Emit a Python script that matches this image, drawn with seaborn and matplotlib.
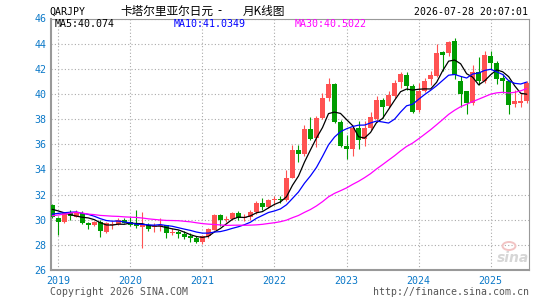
import numpy as np
import pandas as pd
import matplotlib
matplotlib.use('Agg')
import matplotlib.pyplot as plt
from matplotlib.patches import Ellipse
import seaborn as sns

# monthly candles, Dec 2018 .. Jul 2025 (QAR/JPY)
months = pd.period_range('2018-12', '2025-07', freq='M')

open_ = [31.18, 30.10, 29.85, 30.50, 30.25, 30.55, 29.72, 29.60, 29.80, 29.05,
         29.58, 29.62, 29.96, 29.80, 29.72, 29.40, 29.55, 29.38, 29.50, 29.55,
         28.98, 29.03, 28.90, 28.72, 28.58, 28.22, 28.68, 29.22, 30.38, 29.95,
         30.08, 30.50, 30.12, 30.22, 30.58, 31.32, 30.98, 31.58, 31.62, 31.58,
         33.35, 35.55, 35.25, 37.18, 36.47, 38.10, 39.70, 40.80, 37.80, 35.90,
         35.65, 37.32, 36.45, 37.26, 38.00, 39.55, 39.03, 39.80, 40.93, 41.52,
         40.60, 38.73, 40.26, 41.20, 41.41, 43.30, 43.25, 44.18, 41.00, 40.20,
         39.30, 41.78, 41.00, 43.05, 42.44, 41.26, 41.05, 39.20, 39.25, 39.40]

high = [31.27, 30.25, 30.60, 30.80, 30.80, 30.70, 29.85, 29.90, 29.95, 29.80,
        29.90, 30.10, 30.10, 30.25, 30.80, 30.65, 29.70, 29.75, 30.15, 29.60,
        29.35, 29.20, 29.10, 28.95, 28.70, 28.80, 29.35, 30.45, 30.45, 30.30,
        30.60, 30.68, 30.45, 30.78, 31.50, 31.72, 31.65, 31.90, 31.92, 33.92,
        35.95, 35.95, 37.55, 38.15, 38.25, 40.10, 41.30, 40.90, 37.95, 36.73,
        37.55, 37.85, 37.84, 38.58, 39.82, 39.70, 40.25, 41.10, 41.73, 41.75,
        40.80, 40.85, 41.30, 41.80, 44.00, 43.40, 44.25, 44.45, 41.40, 40.25,
        42.30, 42.92, 43.40, 43.45, 42.60, 41.60, 41.10, 40.30, 40.10, 41.00]

low = [30.10, 28.75, 29.75, 29.95, 30.20, 29.65, 29.30, 29.50, 28.60, 28.95,
       29.30, 29.58, 29.70, 29.50, 29.35, 27.75, 29.10, 29.05, 29.10, 28.55,
       28.80, 28.55, 28.50, 28.25, 28.15, 28.10, 28.55, 29.15, 29.50, 29.78,
       29.98, 29.95, 29.88, 29.98, 30.45, 30.78, 30.90, 31.20, 31.35, 31.45,
       33.30, 34.62, 35.05, 36.30, 35.75, 38.00, 39.40, 37.70, 35.80, 34.86,
       35.05, 35.60, 35.85, 37.10, 37.80, 38.05, 38.90, 39.70, 40.50, 40.30,
       38.50, 38.60, 40.15, 40.70, 41.35, 41.80, 43.00, 41.20, 38.95, 38.40,
       39.15, 40.70, 40.90, 42.00, 40.78, 40.07, 38.42, 39.00, 39.00, 39.30]

close = [30.20, 29.85, 30.50, 30.30, 30.60, 29.72, 29.60, 29.80, 29.10, 29.70,
         29.65, 29.98, 29.74, 29.60, 29.52, 29.58, 29.25, 29.52, 29.58, 28.95,
         29.05, 28.85, 28.62, 28.58, 28.22, 28.70, 29.25, 30.38, 29.95, 30.08,
         30.50, 30.12, 30.22, 30.58, 31.32, 30.98, 31.58, 31.62, 31.58, 33.35,
         35.55, 35.25, 37.18, 36.45, 38.05, 39.70, 40.80, 37.80, 35.90, 35.62,
         37.32, 36.35, 37.26, 38.15, 39.55, 38.95, 39.95, 40.90, 41.55, 40.60,
         38.55, 40.26, 41.05, 41.52, 43.25, 43.12, 44.10, 41.50, 40.02, 39.30,
         41.75, 41.05, 43.10, 42.45, 41.21, 41.00, 39.10, 39.47, 39.47, 40.86]

# closes Jul 2016 .. Nov 2018, only used to warm up the moving averages
prior_close = [28.05, 28.41, 27.83, 28.79, 31.46, 32.14,
               30.99, 30.99, 30.60, 30.63, 30.44, 30.88, 30.30, 30.22, 30.91,
               31.21, 30.91, 30.96,
               30.00, 29.31, 29.20, 30.03, 29.89, 30.41, 30.74, 30.49, 31.24,
               31.02, 31.18]

year_labels = ['2019', '2020', '2021', '2022', '2023', '2024', '2025']
ma_text = ['MA5:40.074', 'MA10:41.0349', 'MA30:40.5022']

df = pd.DataFrame({'month': months, 'open': open_, 'high': high,
                   'low': low, 'close': close})
df['idx'] = np.arange(len(df))

all_close = pd.Series(prior_close + close)
n_prior = len(prior_close)
for n in [5, 10, 30]:
    df['ma%d' % n] = all_close.rolling(n).mean().values[n_prior:]

RED = '#ff5252'
GREEN = '#009c00'
BLUE_TXT = '#0a78c8'
df['color'] = np.where(df['close'] >= df['open'], RED, GREEN)

sns.set_style('white')
plt.rcParams['font.family'] = ['DejaVu Sans Mono', 'Noto Sans CJK SC']

W, H = 545, 300
fig = plt.figure(figsize=(W / 100, H / 100), dpi=100)
ax = fig.add_axes([50.7 / W, 30 / H, (529 - 50.7) / W, (270 - 18.5) / H])

# grid
ax.set_xlim(-0.25, 79.38)
ax.set_ylim(26, 45.85)
ax.set_yticks(range(26, 47, 2))
jan_idx = df.index[df['month'].dt.month == 1]
ax.set_xticks(jan_idx)
ax.set_xticklabels(year_labels)
ax.grid(True, color='#aaaaaa', linestyle=(0, (1, 2)), linewidth=0.8)
ax.set_axisbelow(True)

# candles
ax.vlines(df['idx'], df['low'], df['high'], colors=df['color'], linewidth=0.8, zorder=2)
body_lo = np.minimum(df['open'], df['close'])
body_h = np.maximum(np.abs(df['close'] - df['open']), 0.08)
ax.bar(df['idx'], body_h, bottom=body_lo, width=0.82, color=df['color'],
       linewidth=0, zorder=3)

# moving averages
sns.lineplot(data=df, x='idx', y='ma5', color='black', linewidth=0.9, ax=ax, zorder=4)
sns.lineplot(data=df, x='idx', y='ma10', color='#0000ff', linewidth=0.9, ax=ax, zorder=4)
sns.lineplot(data=df, x='idx', y='ma30', color='#ff00ff', linewidth=0.9, ax=ax, zorder=4)
ax.set_xlabel('')
ax.set_ylabel('')

for side in ['left', 'bottom']:
    ax.spines[side].set_linewidth(1.5)
    ax.spines[side].set_color('#999999')
for side in ['top', 'right']:
    ax.spines[side].set_linewidth(0.8)
    ax.spines[side].set_color('#999999')
ax.tick_params(length=0, labelcolor=BLUE_TXT, labelsize=7.2)
ax.tick_params(axis='y', pad=3)
ax.tick_params(axis='x', pad=4)

# MA legend inside the top of the plot
fig.text(54.5 / W, 1 - 24 / H, ma_text[0], color='black', fontsize=7.2, va='center')
fig.text(173.5 / W, 1 - 24 / H, ma_text[1], color='#0000ff', fontsize=7.2, va='center')
fig.text(294.5 / W, 1 - 24 / H, ma_text[2], color='#ff00ff', fontsize=7.2, va='center')

# header
cjk = ['Noto Sans CJK SC', 'DejaVu Sans']
fig.text(49.5 / W, 1 - 12 / H, 'QARJPY', color='black', fontsize=7.1, va='center')
fig.text(120 / W, 1 - 11 / H, '卡塔尔里亚尔日元', color='black', fontsize=8.4,
         va='center', ha='left', family=cjk)
fig.text(219.5 / W, 1 - 11 / H, '-', color='black', fontsize=8.4,
         va='center', ha='center', family=cjk)
fig.text(243 / W, 1 - 11 / H, '月K线图', color='black', fontsize=8.4,
         va='center', ha='left', family=cjk)
fig.text(528 / W, 1 - 12 / H, '2026-07-28 20:07:01', color='black', fontsize=7.1,
         va='center', ha='right')

# footer
fig.text(50 / W, 1 - 292 / H, 'Copyright 2026 SINA.COM', color='#555555', fontsize=7.1,
         va='center')
fig.text(529 / W, 1 - 292 / H, 'http://finance.sina.com.cn', color='#555555', fontsize=7.1,
         va='center', ha='right')

# watermark
fig.patches.append(Ellipse((509 / W, 1 - 246 / H), 13 / W, 8 / H, fill=False,
                           edgecolor='#f2c4c4', linewidth=1.4,
                           transform=fig.transFigure, figure=fig))
fig.text(513 / W, 1 - 258 / H, 'sina', color='#d6d6d6', fontsize=10, fontweight='bold',
         style='italic', ha='center', va='center', family=['DejaVu Sans'])

fig.savefig('out.png', dpi=100)
